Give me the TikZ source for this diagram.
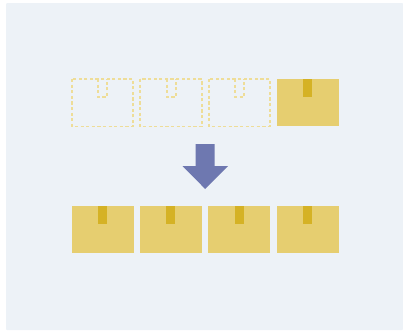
\documentclass[tikz,border=0pt]{standalone}
\definecolor{panelc}{HTML}{EDF2F7}
\definecolor{boxc}{HTML}{E6CE70}
\definecolor{tapec}{HTML}{D5B225}
\definecolor{dashc}{HTML}{EEDD98}
\definecolor{arrowc}{HTML}{6E78B0}
\tikzset{
  panel/.style={fill=panelc,draw=none,rounded corners=1pt},
  fullbox/.style={fill=boxc,draw=none},
  fulltape/.style={fill=tapec,draw=none},
  ghost/.style={draw=dashc,line width=1.9pt,dash pattern=on 3.2pt off 2.4pt,fill=none},
  downarrow/.style={fill=arrowc,draw=none}
}
\newcommand{\solidbox}[2]{%
  \fill[fullbox] (#1,-#2) rectangle ++(61.5,-47);
  \fill[fulltape] ({#1+26.2},-#2) rectangle ++(9,-18);
}
% left, width, tape left
\newcommand{\emptybox}[3]{%
  \draw[ghost] (#1,-79) rectangle ++(#2,-47.5);
  \draw[ghost] (#3,-79) -- ++(0,-18) -- ++(9,0) -- ++(0,18);
}
\begin{document}
\begin{tikzpicture}[x=1pt,y=1pt]
\useasboundingbox (0,0) rectangle (403,-330);
\fill[white] (0,0) rectangle (403,-330);
\fill[panel] (6,-3) rectangle (403,-330);
\emptybox{72}{61}{98}
\emptybox{140}{61.7}{167}
\emptybox{209}{61}{235.3}
\solidbox{277}{79.3}
\solidbox{72}{205.7}
\solidbox{140.2}{205.7}
\solidbox{208.4}{205.7}
\solidbox{277}{205.7}
\fill[downarrow] (195.7,-144) -- (214.7,-144) -- (214.7,-166) -- (228,-166) -- (205.2,-189) -- (182.5,-166) -- (195.7,-166) -- cycle;
\end{tikzpicture}
\end{document}
